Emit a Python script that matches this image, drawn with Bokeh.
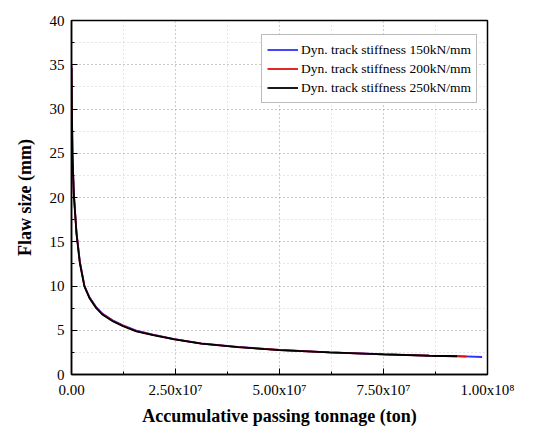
from bokeh.plotting import figure
from bokeh.embed import file_html
from bokeh.resources import INLINE
from bokeh.models import FixedTicker, CustomJSTickFormatter, Range1d, Legend, LegendItem

# Data (tonnage in tons, flaw size in mm)
x_150 = [0, 1e5, 2.4e5, 5.6e5, 1.2e6, 2.0e6, 3.1e6, 4.3e6, 5.95e6, 7.5e6, 1.0e7, 1.24e7, 1.56e7, 1.96e7, 2.48e7, 3.12e7, 4.0e7, 5.0e7, 6.2e7, 7.5e7, 8.6e7, 9.27e7, 9.87e7]
y_150 = [35.0, 30.0, 24.8, 20.5, 16.1, 12.8, 10.05, 8.75, 7.6, 6.85, 6.1, 5.55, 4.95, 4.5, 4.0, 3.52, 3.12, 2.78, 2.51, 2.29, 2.14, 2.07, 1.98]
x_200 = [0, 1e5, 2.4e5, 5.6e5, 1.2e6, 2.0e6, 3.1e6, 4.3e6, 5.95e6, 7.5e6, 1.0e7, 1.24e7, 1.56e7, 1.96e7, 2.48e7, 3.12e7, 4.0e7, 5.0e7, 6.2e7, 7.5e7, 8.6e7, 9.27e7, 9.5e7]
y_200 = [34.8, 29.8, 24.7, 20.4, 16.0, 12.7, 10.0, 8.7, 7.55, 6.8, 6.05, 5.5, 4.9, 4.47, 3.98, 3.5, 3.1, 2.77, 2.5, 2.28, 2.13, 2.06, 2.03]
x_250 = [0, 1e5, 2.4e5, 5.6e5, 1.2e6, 2.0e6, 3.1e6, 4.3e6, 5.95e6, 7.5e6, 1.0e7, 1.24e7, 1.56e7, 1.96e7, 2.48e7, 3.12e7, 4.0e7, 5.0e7, 6.2e7, 7.5e7, 8.6e7, 9.27e7]
y_250 = [34.6, 29.6, 24.6, 20.3, 15.9, 12.6, 9.95, 8.65, 7.5, 6.75, 6.0, 5.45, 4.87, 4.44, 3.96, 3.49, 3.09, 2.76, 2.49, 2.27, 2.12, 2.06]

series_labels = ["Dyn. track stiffness 150kN/mm", "Dyn. track stiffness 200kN/mm", "Dyn. track stiffness 250kN/mm"]
series_colors = ["#3030ff", "#e01010", "#000000"]

x_ticks = [0, 2.5e7, 5e7, 7.5e7, 1e8]
x_tick_labels = ["0.00", "2.50x10\u2077", "5.00x10\u2077", "7.50x10\u2077", "1.00x10\u2078"]
x_minor = [1.25e7, 3.75e7, 6.25e7, 8.75e7]
y_ticks = [0, 5, 10, 15, 20, 25, 30, 35, 40]
y_minor = [2.5, 7.5, 12.5, 17.5, 22.5, 27.5, 32.5, 37.5]

FONT = "Liberation Serif"

p = figure(width=533, height=431, output_backend="svg", toolbar_location=None,
           x_range=Range1d(0, 1e8), y_range=Range1d(0, 40),
           min_border_left=71, min_border_right=46, min_border_top=20, min_border_bottom=57)
p.background_fill_color = "white"
p.border_fill_color = "white"
p.outline_line_color = "black"
p.outline_line_width = 1.5

renderers = []
for xs, ys, c in [(x_150, y_150, series_colors[0]), (x_200, y_200, series_colors[1]), (x_250, y_250, series_colors[2])]:
    r = p.line(xs, ys, line_color=c, line_width=1.8)
    renderers.append(r)

p.xaxis.ticker = FixedTicker(ticks=x_ticks, minor_ticks=x_minor)
p.yaxis.ticker = FixedTicker(ticks=y_ticks, minor_ticks=y_minor)
p.xaxis.formatter = CustomJSTickFormatter(args=dict(tvals=x_ticks, tlabels=x_tick_labels), code="""
    for (let i = 0; i < tvals.length; i++) { if (Math.abs(tvals[i] - tick) < 1) return tlabels[i]; }
    return "";
""")

for ax in (p.xaxis[0], p.yaxis[0]):
    ax.axis_line_color = "black"
    ax.axis_line_width = 1.5
    ax.major_tick_in = 6
    ax.major_tick_out = 0
    ax.minor_tick_in = 3
    ax.minor_tick_out = 0
    ax.major_tick_line_color = "black"
    ax.minor_tick_line_color = "black"
    ax.major_label_text_font = FONT
    ax.major_label_text_font_size = "15px"
    ax.major_label_text_color = "black"
    ax.axis_label_text_font = FONT
    ax.axis_label_text_font_size = "18px"
    ax.axis_label_text_font_style = "bold"
    ax.axis_label_text_color = "black"
    ax.major_label_standoff = 7

p.xaxis.axis_label = "Accumulative passing tonnage (ton)"
p.yaxis.axis_label = "Flaw size (mm)"
p.xaxis.axis_label_standoff = 5
p.yaxis.axis_label_standoff = 12

for g in (p.xgrid[0], p.ygrid[0]):
    g.grid_line_color = "#999999"
    g.grid_line_dash = "1 3"
    g.grid_line_width = 1
    g.minor_grid_line_color = "#cccccc"
    g.minor_grid_line_dash = "1 3"
    g.minor_grid_line_width = 1

legend = Legend(items=[LegendItem(label=l, renderers=[r]) for l, r in zip(series_labels, renderers)],
                location=(190, 271))
legend.label_text_font = FONT
legend.label_text_font_size = "13.5px"
legend.label_text_color = "black"
legend.glyph_width = 31
legend.glyph_height = 19
legend.label_height = 19
legend.spacing = 0
legend.padding = 5
legend.margin = 0
legend.label_standoff = 3
legend.border_line_color = "#777777"
legend.border_line_width = 1
legend.background_fill_alpha = 1
p.add_layout(legend)

open("out.html", "w").write(file_html(p, INLINE))
